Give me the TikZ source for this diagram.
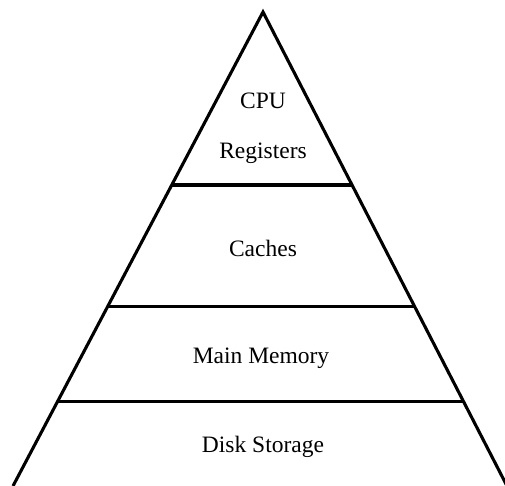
\documentclass[tikz,border=0pt]{standalone}
\usepackage{fontspec}
\setmainfont{Liberation Serif}
\usetikzlibrary{calc}
\tikzset{
  level/.style={font=\fontsize{23.5}{28}\selectfont,anchor=base,inner sep=0pt},
  side/.style={line width=3.1pt,line join=miter}
}
\begin{document}
\begin{tikzpicture}[x=1pt,y=-1pt]
  \useasboundingbox (0,0) rectangle (505,486);
  \coordinate (top) at (263,12);
  \coordinate (bl) at (13,486);
  \coordinate (br) at (507,486);
  \draw[side] (bl) -- (top) -- (br);
  % level borders
  \foreach \t/\n in {0.365/a,0.622/b,0.821/c}{
    \coordinate (l\n) at ($(top)!\t!(bl)$);
    \coordinate (r\n) at ($(top)!\t!(br)$);
    \draw[side] (l\n) -- (r\n);
  }
  \node[level] (cpu) at (263,109) {CPU};
  \node[level] (reg) at (263,159) {Registers};
  \node[level] (cache) at (263,256) {Caches};
  \node[level] (mem) at (261,363) {Main Memory};
  \node[level] (disk) at (263,452) {Disk Storage};
\end{tikzpicture}
\end{document}
